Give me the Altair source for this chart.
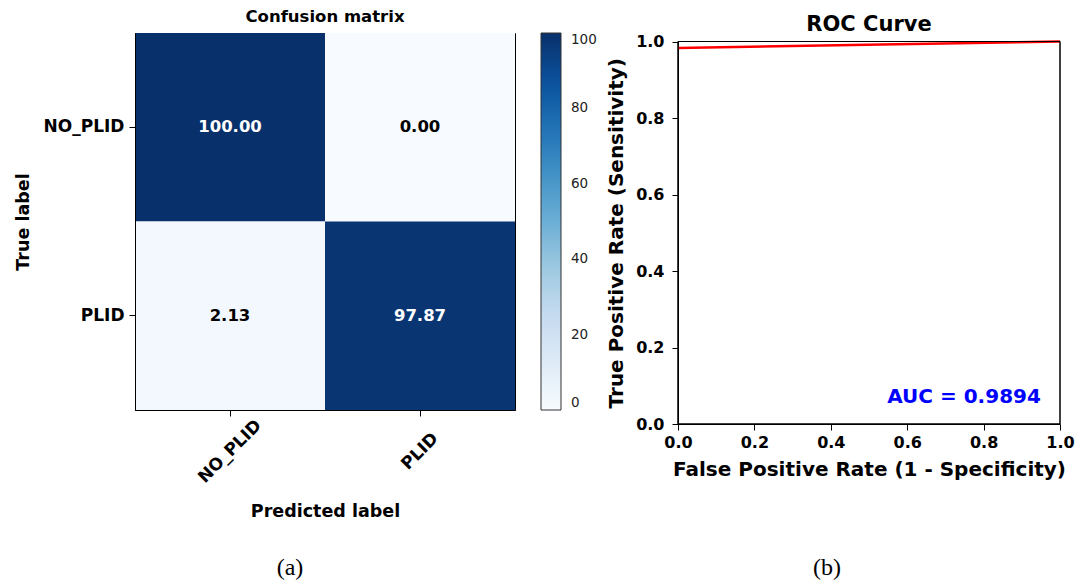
import altair as alt
import pandas as pd

# ---------------- data ----------------
classes = ["NO_PLID", "PLID"]
true_labels = ["NO_PLID", "NO_PLID", "PLID", "PLID"]
pred_labels = ["NO_PLID", "PLID", "NO_PLID", "PLID"]
cm_values = [100.00, 0.00, 2.13, 97.87]

fpr = [0.0, 1.0]
tpr = [0.983, 1.0]
auc_value = 0.9894

colorbar_ticks = [0, 20, 40, 60, 80, 100]
roc_ticks = [0.0, 0.2, 0.4, 0.6, 0.8, 1.0]

blues_domain = [0, 12.5, 25, 37.5, 50, 62.5, 75, 87.5, 100]
blues_range = ["#f7fbff", "#deebf7", "#c6dbef", "#9ecae1", "#6baed6",
               "#4292c6", "#2171b5", "#08519c", "#08306b"]

FONT = "DejaVu Sans"
SERIF = "Liberation Serif"

cm_df = pd.DataFrame({"true": true_labels, "pred": pred_labels, "value": cm_values})
cm_df["label"] = [f"{v:.2f}" for v in cm_values]

roc_df = pd.DataFrame({"fpr": fpr, "tpr": tpr})

# ---------------- confusion matrix ----------------
CM_W, CM_H = 380, 377

cm_base = alt.Chart(cm_df)
x_cm = alt.X("pred:N", sort=classes, title="Predicted label",
             axis=alt.Axis(labelAngle=-45, labelAlign="center", labelBaseline="middle",
                           labelFontSize=17, labelFontWeight="bold", labelFont=FONT,
                           labelColor="black", labelPadding=35,
                           titleFontSize=17.5, titleFontWeight="bold", titleFont=FONT,
                           titleColor="black", titlePadding=17,
                           tickSize=6, tickColor="black", domainColor="black"))
y_cm = alt.Y("true:N", sort=classes, title="True label",
             axis=alt.Axis(labelFontSize=17, labelFontWeight="bold", labelFont=FONT,
                           labelColor="black", labelPadding=5,
                           titleFontSize=17.5, titleFontWeight="bold", titleFont=FONT,
                           titleColor="black", titlePadding=11,
                           tickSize=6, tickColor="black", domainColor="black"))

rect = cm_base.mark_rect().encode(
    x=x_cm, y=y_cm,
    color=alt.Color("value:Q",
                    scale=alt.Scale(domain=blues_domain, range=blues_range),
                    legend=alt.Legend(title=None, values=colorbar_ticks,
                                      gradientLength=CM_H, gradientThickness=20,
                                      gradientStrokeColor="#333", gradientStrokeWidth=1,
                                      labelFontSize=13.5, labelFont=FONT, labelColor="#222",
                                      offset=26, labelOffset=10)),
)
cm_text = cm_base.mark_text(fontSize=16.5, fontWeight="bold", font=FONT).encode(
    x=alt.X("pred:N", sort=classes),
    y=alt.Y("true:N", sort=classes),
    text="label:N",
    color=alt.condition(alt.datum.value > 50, alt.value("white"), alt.value("black")),
)
cap_a = alt.Chart(pd.DataFrame({"cap": ["(a)"]})).mark_text(
    font=SERIF, fontSize=24, color="black", baseline="middle").encode(
    text="cap:N", x=alt.value(155), y=alt.value(535))

cm_chart = alt.layer(rect, cm_text, cap_a).properties(
    width=CM_W, height=CM_H,
    view=alt.ViewBackground(stroke="black", strokeWidth=1),
    title=alt.Title("Confusion matrix", fontSize=16.5, fontWeight="bold", font=FONT,
                    color="black", offset=8)
).resolve_scale(color="independent").resolve_legend(color="independent")

# ---------------- ROC ----------------
ROC_W = 382
ROC_TOP = 8.5       # data area starts a little lower than the matrix
ROC_H = 391         # view height (data area 382 px + top gap)

x_roc = alt.X("fpr:Q", scale=alt.Scale(domain=[0, 1], nice=False),
              title="False Positive Rate (1 - Specificity)",
              axis=alt.Axis(values=roc_ticks, format=".1f", grid=False,
                            labelFontSize=16, labelFontWeight="bold", labelFont=FONT,
                            labelColor="black", labelFlush=False, labelPadding=4,
                            titleFontSize=20, titleFontWeight="bold", titleFont=FONT,
                            titleColor="black", titlePadding=9,
                            tickSize=6, tickColor="black", domainColor="black"))
y_roc = alt.Y("tpr:Q", scale=alt.Scale(domain=[0, 1], nice=False, range=[ROC_H, ROC_TOP]),
              title="True Positive Rate (Sensitivity)",
              axis=alt.Axis(values=roc_ticks, format=".1f", grid=False,
                            labelFontSize=16, labelFontWeight="bold", labelFont=FONT,
                            labelColor="black", labelFlush=False, labelPadding=8,
                            titleFontSize=20, titleFontWeight="bold", titleFont=FONT,
                            titleColor="black", titlePadding=9,
                            tickSize=6, tickColor="black", domainColor="black"))

roc_line = alt.Chart(roc_df).mark_line(color="red", strokeWidth=2.5, clip=True).encode(
    x=x_roc, y=y_roc)
frame = alt.Chart(roc_df).mark_rect(filled=False, stroke="black", strokeWidth=1).encode(
    x=alt.datum(0), x2=alt.datum(1), y=alt.datum(0), y2=alt.datum(1))
auc_text = alt.Chart(pd.DataFrame({"t": [f"AUC = {auc_value:.4f}"], "x": [0.95], "y": [0.07]})).mark_text(
    color="blue", fontSize=20, fontWeight="bold", font=FONT, align="right",
    baseline="middle").encode(text="t:N", x="x:Q", y="y:Q")
cap_b = alt.Chart(pd.DataFrame({"cap": ["(b)"]})).mark_text(
    font=SERIF, fontSize=24, color="black", baseline="middle").encode(
    text="cap:N", x=alt.value(149), y=alt.value(535))

roc_chart = alt.layer(roc_line, frame, auc_text, cap_b).properties(
    width=ROC_W, height=ROC_H,
    view=alt.ViewBackground(stroke="transparent"),
    title=alt.Title("ROC Curve", fontSize=21, fontWeight="bold", font=FONT,
                    color="black", offset=-1.5))

chart = alt.hconcat(cm_chart, roc_chart, spacing=8).resolve_scale(
    color="independent").resolve_legend(color="independent").properties(
    padding={"left": 5, "top": 0, "right": 5, "bottom": 0}
).configure(background="white")

chart.save("out.html", embed_options={"renderer": "svg", "actions": False})
